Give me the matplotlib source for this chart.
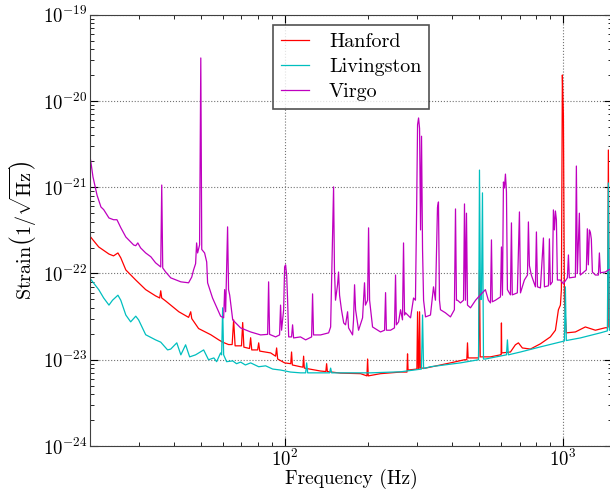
import matplotlib
matplotlib.use("Agg")
import matplotlib.pyplot as plt

# amplitude spectral density, (frequency Hz, strain/sqrt(Hz))
hanford = [
    (20.1, 2.65e-22), (21.5, 2.03e-22), (23.4, 1.68e-22), (24.3, 1.60e-22), (25.2, 1.73e-22),
    (25.8, 1.52e-22), (26.9, 1.10e-22), (29.2, 8.4e-23), (31.7, 6.5e-23), (34.4, 5.5e-23),
    (35.6, 5.2e-23), (35.9, 6.3e-23), (36.2, 5.2e-23), (37.4, 4.8e-23), (41.7, 3.6e-23),
    (45.2, 3.1e-23), (46.0, 3.6e-23), (46.4, 3.0e-23), (49.1, 2.3e-23), (54.3, 1.95e-23),
    (58.0, 1.7e-23), (59.9, 1.6e-23), (62.9, 1.5e-23), (64.8, 1.5e-23), (65.6, 2.9e-23),
    (66.4, 1.45e-23), (69.5, 1.45e-23), (70.0, 1.45e-23), (70.7, 2.7e-23), (71.4, 1.4e-23),
    (74.8, 1.35e-23), (75.5, 1.8e-23), (76.2, 1.3e-23), (80.0, 1.3e-23), (80.7, 1.57e-23),
    (81.4, 1.26e-23), (89.1, 1.2e-23), (92.8, 1.1e-23), (93.6, 1.37e-23), (94.4, 1.02e-23),
    (100, 9.2e-24), (105.2, 9.0e-24), (105.9, 1.23e-23), (106.6, 8.7e-24), (114, 8.3e-24),
    (116.3, 8.2e-24), (117, 1.1e-23), (117.7, 8.0e-24), (134.6, 7.4e-24), (140.6, 7.3e-24),
    (141.5, 9.0e-24), (142.4, 7.3e-24), (158.8, 7.0e-24), (187.4, 6.9e-24), (197.5, 6.5e-24),
    (198.6, 1.02e-23), (199.7, 6.5e-24), (221, 6.9e-24), (260.8, 7.2e-24), (275, 7.2e-24),
    (276.3, 1.17e-23), (277.5, 7.6e-24), (298.5, 7.8e-24), (300.2, 3.6e-23), (302, 7.9e-24),
    (303.5, 7.9e-24), (305.2, 3.6e-23), (307, 8.0e-24), (320.6, 8.0e-24), (394.1, 9.2e-24),
    (442.5, 1.0e-23), (451, 1.0e-23), (453.6, 1.57e-23), (456, 1.05e-23), (497, 1.05e-23),
    (500.9, 1.1e-22), (504, 1.08e-23), (548.5, 1.08e-23), (595.7, 1.14e-23), (599, 1.14e-23),
    (600.6, 2.67e-23), (602, 1.2e-23), (647, 1.23e-23), (674, 1.49e-23), (691, 1.57e-23),
    (714, 1.37e-23), (763, 1.33e-23), (829, 1.53e-23), (900, 1.84e-23), (938.5, 2.2e-23),
    (962, 3.8e-23), (978, 4.3e-23), (986, 6.5e-23), (994, 2.0e-20), (1002.5, 6.9e-21),
    (1011, 4.9e-23), (1027, 2.05e-23), (1107, 2.1e-23), (1202, 2.4e-23), (1306, 2.2e-23),
    (1418, 2.35e-23), (1445, 2.35e-23), (1454, 2.7e-21), (1463, 2.4e-23), (1480, 2.4e-23),
]

livingston = [
    (20.1, 8.6e-23), (21.5, 6.5e-23), (22.4, 5.2e-23), (23.4, 4.3e-23), (24.1, 4.9e-23),
    (25.2, 5.6e-23), (25.8, 4.9e-23), (26.9, 3.3e-23), (28.0, 2.75e-23), (29.2, 3.2e-23),
    (29.9, 2.9e-23), (31.7, 1.95e-23), (34.4, 1.7e-23), (35.9, 1.6e-23), (38.0, 1.3e-23),
    (39.0, 1.33e-23), (41.0, 1.57e-23), (42.4, 1.14e-23), (44.1, 1.49e-23), (45.6, 1.08e-23),
    (47.9, 1.14e-23), (51.2, 1.3e-23), (53.3, 1.0e-23), (55.7, 1.05e-23), (57.0, 9.5e-24),
    (58.9, 1.2e-23), (59.4, 1.14e-23), (59.9, 4.0e-23), (60.4, 1.14e-23), (61.9, 9.5e-24),
    (65.1, 9.7e-24), (67.2, 9.0e-24), (69.5, 9.4e-24), (72.3, 8.7e-24), (75.5, 9.2e-24),
    (80.7, 8.3e-24), (85.5, 8.5e-24), (90.6, 7.8e-24), (96.7, 7.6e-24), (105, 7.2e-24),
    (114, 7.05e-24), (119, 7.05e-24), (120, 9.2e-24), (121, 7.05e-24), (134.6, 7.05e-24),
    (145, 7.05e-24), (146.3, 8.0e-24), (147.5, 7.05e-24), (172.5, 7.05e-24), (203.5, 7.05e-24),
    (260.8, 7.25e-24), (310, 7.8e-24), (312.8, 3.3e-23), (315.5, 7.9e-24), (334, 8.3e-24),
    (428, 9.2e-24), (497, 1.0e-23), (500.9, 1.58e-21), (505, 5.0e-23), (509, 5.0e-23),
    (513.4, 8.6e-22), (517.7, 1.02e-23), (526, 1.02e-23), (626, 1.14e-23), (631, 1.7e-23),
    (636, 1.14e-23), (703, 1.23e-23), (829, 1.41e-23), (1011, 1.65e-23), (1019, 7.0e-23),
    (1027, 1.67e-23), (1153, 1.79e-23), (1361, 2.05e-23), (1442, 2.16e-23), (1454, 1.12e-21),
    (1466, 2.2e-23), (1480, 2.2e-23),
]

virgo = [
    (20.1, 2.07e-21), (20.5, 1.32e-21), (21.2, 8.1e-22), (21.9, 5.9e-22), (22.4, 5.5e-22),
    (23.4, 4.4e-22), (24.3, 4.2e-22), (25.0, 4.2e-22), (25.8, 3.4e-22), (26.9, 2.65e-22),
    (28.7, 2.14e-22), (29.2, 2.1e-22), (29.7, 2.26e-22), (30.4, 1.98e-22), (31.7, 1.73e-22),
    (33.1, 1.56e-22), (34.4, 1.33e-22), (35.9, 1.19e-22), (36.2, 1.06e-21), (36.5, 1.16e-22),
    (37.4, 1.04e-22), (39.0, 8.9e-23), (42.4, 8.0e-23), (45.2, 7.8e-23), (46.4, 9.1e-23),
    (47.1, 1.1e-22), (47.9, 1.3e-22), (48.3, 2.26e-22), (48.7, 1.73e-22), (49.5, 2.14e-22),
    (50.0, 3.15e-20), (50.4, 1.9e-22), (51.6, 1.73e-22), (52.5, 1.36e-22), (52.9, 7.8e-23),
    (55.1, 5.2e-23), (57.5, 3.8e-23), (58.9, 3.2e-23), (60.4, 3.06e-23), (60.9, 6.5e-23),
    (61.4, 3.6e-23), (62.4, 3.47e-22), (62.9, 6.5e-23), (63.5, 5.6e-23), (65.1, 2.9e-23),
    (69.5, 2.34e-23), (75.5, 2.1e-23), (82.0, 1.94e-23), (86.9, 1.97e-23), (87.6, 8.0e-23),
    (88.3, 1.97e-23), (92.8, 1.84e-23), (95.9, 1.94e-23), (96.7, 4.3e-23), (97.5, 2.2e-23),
    (99.2, 3.8e-23), (100, 1.19e-22), (100.8, 1.26e-22), (101.7, 9.6e-23), (102.5, 4.9e-23),
    (103.4, 1.84e-23), (105.9, 1.84e-23), (106.8, 2.54e-23), (107.7, 1.79e-23), (114, 1.84e-23),
    (119, 1.7e-23), (125, 1.84e-23), (126, 5.8e-23), (127, 1.94e-23), (134.6, 1.94e-23),
    (143.9, 2.05e-23), (146.3, 2.4e-23), (147.5, 8.4e-23), (148.7, 2.65e-22), (149.9, 1.01e-21),
    (151, 1.1e-22), (152.3, 4.9e-23), (154.9, 7.4e-23), (156.2, 1.04e-22), (157.5, 5.6e-23),
    (160, 3.8e-23), (163, 2.67e-23), (165.5, 2.54e-23), (168.3, 3.6e-23), (169.7, 2.34e-23),
    (175.4, 1.94e-23), (176.8, 2.9e-23), (178.3, 7.4e-23), (179.8, 3.8e-23), (184.3, 2.2e-23),
    (190.5, 3.06e-23), (193.6, 7.8e-23), (195.1, 4.3e-23), (198.6, 4.9e-23), (200.2, 3.38e-22),
    (201.9, 4.9e-23), (206.9, 2.4e-23), (221, 2.1e-23), (228.5, 2.2e-23), (230.4, 6.0e-23),
    (232, 2.2e-23), (240.1, 2.2e-23), (248, 2.34e-23), (250.2, 9.6e-23), (252, 2.54e-23),
    (256.6, 2.75e-23), (260.8, 3.8e-23), (265, 2.9e-23), (267.3, 2.26e-22), (269.5, 3.3e-23),
    (271.8, 3.5e-23), (283.3, 3.06e-23), (290.4, 5.2e-23), (295, 4.9e-23), (297.8, 5.2e-22),
    (300.2, 5.3e-21), (302.7, 6.35e-21), (305.2, 4.8e-21), (307.7, 3.2e-22), (310.2, 3.9e-21),
    (312.8, 1.9e-22), (315.5, 4.9e-23), (320.6, 3.14e-23), (334, 3.3e-23), (342.5, 7.0e-23),
    (348, 4.9e-23), (353.9, 5.8e-22), (356.8, 6.75e-22), (359.8, 4.9e-23), (362.8, 3.8e-23),
    (378, 3.5e-23), (394, 3.14e-23), (407, 3.8e-23), (410.8, 5.6e-22), (414, 4.9e-23),
    (417.6, 4.9e-23), (428, 4.56e-23), (439, 4.9e-23), (442.5, 6.4e-22), (446, 4.9e-23),
    (449.8, 5.0e-22), (453.6, 4.3e-23), (465, 4.0e-23), (485, 4.9e-23), (497, 5.35e-23),
    (526, 6.5e-23), (539, 4.9e-23), (548.5, 4.56e-23), (553, 2.45e-22), (557, 4.7e-23),
    (571.7, 4.9e-23), (595.7, 5.35e-23), (600.6, 2.03e-22), (605.6, 5.6e-23), (610.6, 1.15e-21),
    (615.7, 9.8e-22), (620.8, 1.42e-21), (626, 8.8e-22), (631, 6.5e-23), (647, 5.65e-23),
    (652.4, 3.86e-22), (657, 5.65e-23), (685, 5.96e-23), (697, 5.17e-22), (703, 5.96e-23),
    (726, 8.4e-23), (745, 9.6e-23), (750.6, 3.96e-22), (756.9, 1.23e-22), (769, 9.6e-23),
    (795.4, 7.0e-23), (802, 3.03e-22), (809, 7.0e-23), (829, 6.8e-23), (849.8, 2.58e-22),
    (857, 7.0e-23), (886, 7.2e-23), (893, 2.52e-22), (900, 7.4e-23), (915, 8.0e-23),
    (923, 5.46e-22), (930.7, 3.2e-22), (938.5, 5.3e-22), (946, 4.2e-22), (954, 8.4e-23),
    (978, 8.4e-23), (1002.5, 7.6e-23), (1036, 8.9e-23), (1045, 1.64e-22), (1053, 8.9e-23),
    (1107, 9.1e-23), (1116, 1.76e-21), (1125, 1.0e-22), (1144, 5.0e-22), (1153, 9.6e-23),
    (1212, 1.1e-22), (1222, 3.3e-22), (1232, 1.26e-22), (1243, 3.2e-22), (1253, 3.0e-22),
    (1263, 2.5e-22), (1274, 1.04e-22), (1306, 9.6e-23), (1339, 9.6e-23), (1350, 1.73e-22),
    (1361, 1.02e-22), (1418, 1.04e-22), (1454, 1.1e-22), (1480, 1.12e-22),
]

detectors = ["Hanford", "Livingston", "Virgo"]
colors = ["#ff0000", "#00bfbf", "#bf00bf"]

plt.rcParams["font.family"] = "serif"
plt.rcParams["font.serif"] = ["cmr10"]
plt.rcParams["mathtext.fontset"] = "cm"
plt.rcParams["axes.formatter.use_mathtext"] = True

fig = plt.figure(figsize=(6.10, 4.93), dpi=100)
ax = fig.add_axes([0.1475, 0.0953, 0.856, 0.8749])

for name, pts, c in zip(detectors, [hanford, livingston, virgo], colors):
    f, asd = zip(*pts)
    ax.loglog(f, asd, color=c, lw=0.9, label=name)

ax.set_xlim(20, 1500)
ax.set_ylim(1e-24, 1e-19)
ax.grid(True, which="major", ls=":", color="0.45", lw=0.8)
ax.tick_params(which="both", direction="in", top=True, right=True, labelsize=13.5, pad=2)
ax.tick_params(which="major", length=6)
ax.tick_params(which="minor", length=3)
for s in ax.spines.values():
    s.set_color("0.25")

ax.set_xlabel("Frequency (Hz)", fontsize=14)
ax.set_ylabel(r"Strain$\left(1/\sqrt{\mathrm{Hz}}\right)$", fontsize=14.5)
ax.xaxis.set_label_coords(0.5, -0.052)
ax.yaxis.set_label_coords(-0.098, 0.5)

leg = ax.legend(loc="upper center", fontsize=14.5, fancybox=False, edgecolor="0.15",
                handlelength=1.4, handletextpad=1.0, borderpad=0.4, labelspacing=0.35)
leg.get_frame().set_linewidth(1.2)

fig.savefig("out.png", dpi=100)
